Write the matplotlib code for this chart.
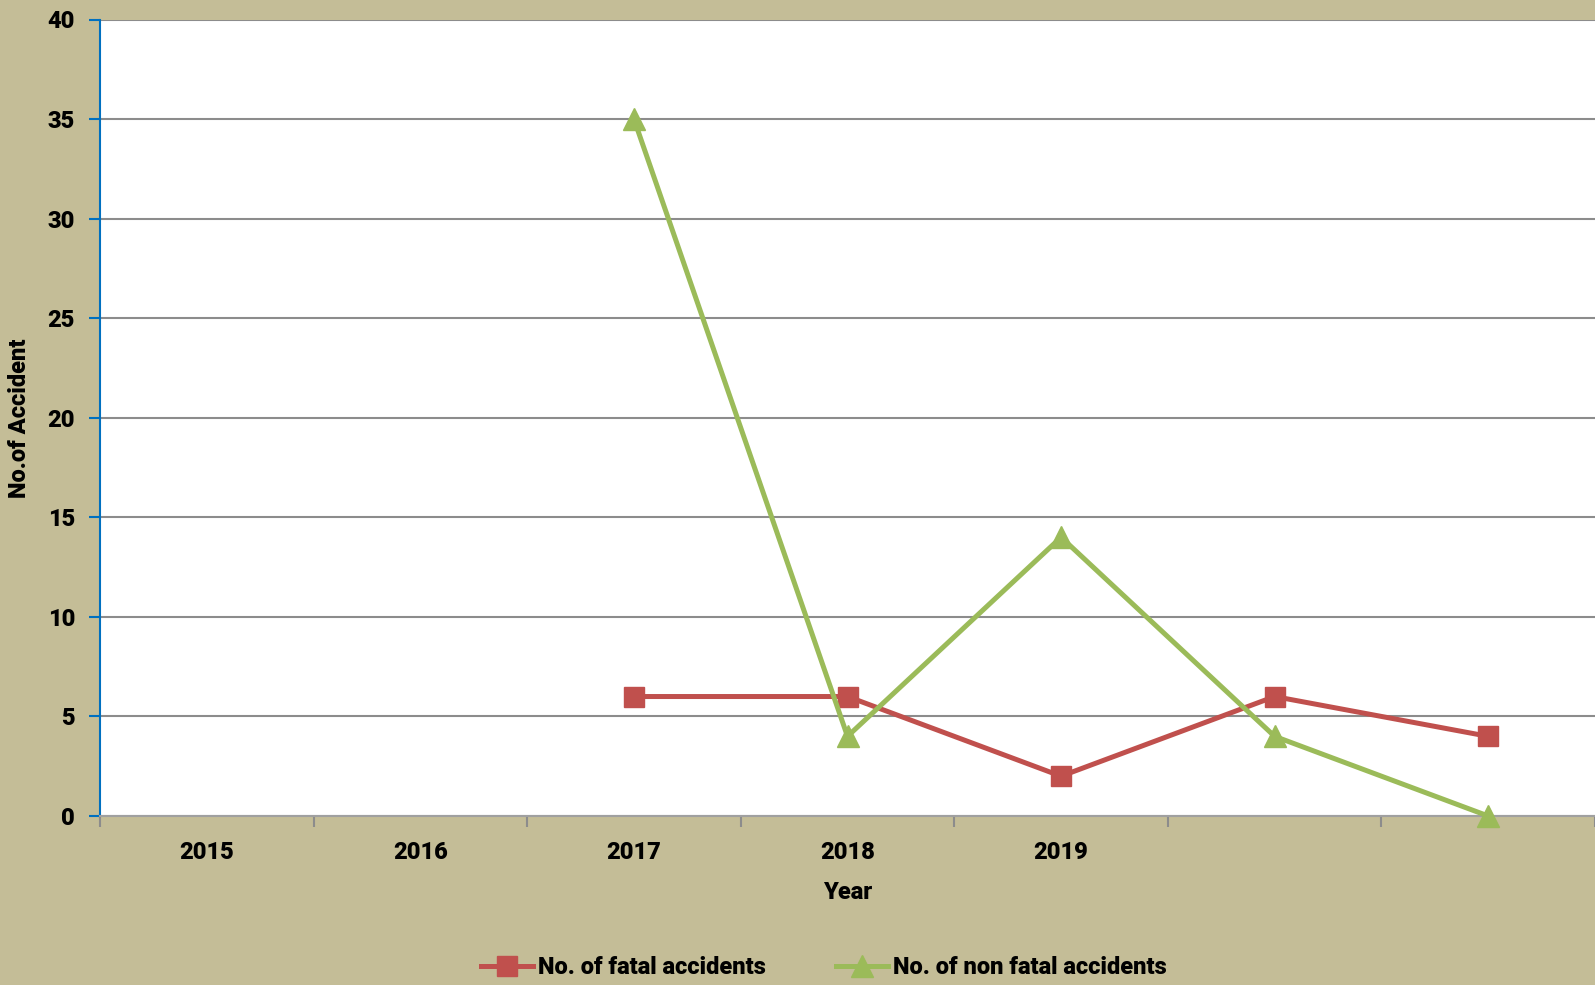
import numpy as np
import matplotlib.pyplot as plt
from matplotlib.ticker import FixedLocator

plt.rcParams.update({'font.family': ['Roboto', 'DejaVu Sans'], 'font.weight': 'heavy'})

# categories as on the chart (two last slots have no label)
years = ['2015', '2016', '2017', '2018', '2019', '', '']
fatal = [np.nan, np.nan, 6, 6, 2, 6, 4]
non_fatal = [np.nan, np.nan, 35, 4, 14, 4, 0]

bg = '#C4BD97'
red = '#C0504D'
green = '#9BBB59'

fig = plt.figure(figsize=(15.95, 9.85), dpi=100, facecolor=bg)
ax = fig.add_axes([100/1595, 1-816/985, 1-100/1595, (816-19.5)/985])
ax.set_facecolor('white')

x = np.arange(len(years))
ax.plot(x, fatal, color=red, lw=3.6, marker='s', ms=14, mec=red, label='No. of fatal accidents', clip_on=False, zorder=4)
ax.plot(x, non_fatal, color=green, lw=3.6, marker='^', ms=16, mec=green, label='No. of non fatal accidents', clip_on=False, zorder=5)

ax.set_xlim(-0.5, len(years)-0.5)
ax.set_ylim(0, 40)
ax.set_yticks(np.arange(0, 41, 5))
ax.grid(axis='y', color='#8C8C8C', lw=1.5)
ax.set_axisbelow(True)

ax.set_xticks(x)
ax.set_xticklabels(years)
ax.xaxis.set_minor_locator(FixedLocator(np.arange(-0.5, len(years), 1.0)))
ax.tick_params(axis='x', which='major', length=0, pad=18, labelsize=17)
ax.tick_params(axis='x', which='minor', length=8, width=1.5, color='#8C8C8C')
ax.tick_params(axis='y', length=8, width=1.5, color='#0070C0', labelsize=17, pad=10)

for s in ['top', 'right']:
    ax.spines[s].set_visible(False)
ax.spines['left'].set_color('#0070C0')
ax.spines['left'].set_linewidth(1.5)
ax.spines['bottom'].set_color('#A0A0A0')
ax.spines['bottom'].set_linewidth(1.5)

ax.set_xlabel('Year', fontsize=17, fontweight='heavy', labelpad=12)
ax.set_ylabel('No.of Accident', fontsize=17, fontweight='heavy', labelpad=12)

fig.legend(loc='center', bbox_to_anchor=(824/1595, 1-968/985), ncol=2, frameon=False,
           fontsize=17, handlelength=2.2, columnspacing=3, handletextpad=0.2)

fig.savefig('out.png', dpi=100, facecolor=bg)
